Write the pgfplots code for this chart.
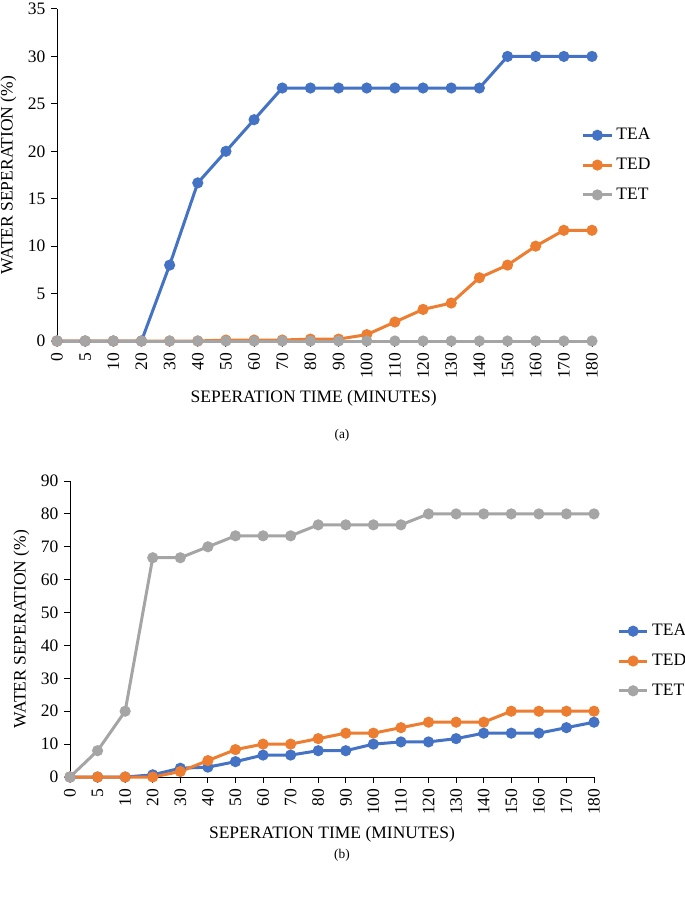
\documentclass[border=0pt]{standalone}
\usepackage{pgfplots}
\pgfplotsset{compat=1.18}
\usepackage{fontspec}
\setmainfont{Liberation Serif}

\definecolor{teablue}{HTML}{4472C4}
\definecolor{tedorange}{HTML}{ED7D31}
\definecolor{tetgray}{HTML}{A5A5A5}

\pgfplotsset{
  sepstyle/.style={
    scale only axis,
    axis lines=left,
    axis line style={-, black, line width=0.6pt},
    xmin=0, xmax=19, ymin=0,
    xtick={0,...,19},
    xticklabels={0,5,10,20,30,40,50,60,70,80,90,100,110,120,130,140,150,160,170,180},
    x tick label style={rotate=90, anchor=east},
    tick align=outside,
    major tick length=3.5pt,
    tick style={black, line width=0.6pt},
    clip=false,
    font=\fontsize{10.5}{12}\selectfont,
    /pgf/number format/assume math mode=true,
    ylabel={WATER SEPERATION (\%)},
    xlabel={SEPERATION TIME (MINUTES)},
    legend style={draw=none, fill=none, font=\fontsize{10.5}{12}\selectfont,
      row sep=5.5pt, inner sep=0pt},
    legend cell align=left,
    every axis plot/.append style={line width=1.8pt, mark=*, mark size=2.4pt},
  },
}

\begin{document}
\begin{tikzpicture}
\useasboundingbox (0,0) rectangle (411pt,-539.4pt);

% (a)
\begin{axis}[sepstyle,
    at={(34.2pt,-204.6pt)}, anchor=south west,
    width=321pt, height=199.2pt,
    ymax=35, ytick={0,5,...,35},
    xlabel style={xshift=-6.5pt},
    legend style={at={(rel axis cs:0.98,0.53)}, anchor=west},
]
\addplot[teablue] coordinates {
(0,0)(1,0)(2,0)(3,0)(4,8)(5,16.67)(6,20)(7,23.33)(8,26.67)(9,26.67)(10,26.67)(11,26.67)(12,26.67)(13,26.67)(14,26.67)(15,26.67)(16,30)(17,30)(18,30)(19,30)
};
\addlegendentry{TEA}
\addplot[tedorange] coordinates {
(0,0)(1,0)(2,0)(3,0)(4,0)(5,0)(6,0.1)(7,0.1)(8,0.1)(9,0.2)(10,0.2)(11,0.67)(12,2)(13,3.33)(14,4)(15,6.67)(16,8)(17,10)(18,11.67)(19,11.67)
};
\addlegendentry{TED}
\addplot[tetgray] coordinates {
(0,0)(1,0)(2,0)(3,0)(4,0)(5,0)(6,0)(7,0)(8,0)(9,0)(10,0)(11,0)(12,0)(13,0)(14,0)(15,0)(16,0)(17,0)(18,0)(19,0)
};
\addlegendentry{TET}
\end{axis}

% (b)
\begin{axis}[sepstyle,
    at={(42pt,-466.2pt)}, anchor=south west,
    width=314.4pt, height=177.6pt,
    ymax=90, ytick={0,10,...,90},
    legend style={at={(rel axis cs:1.044,0.392)}, anchor=west},
]
\addplot[teablue] coordinates {
(0,0)(1,0)(2,0)(3,0.67)(4,2.67)(5,3)(6,4.67)(7,6.67)(8,6.67)(9,8)(10,8)(11,10)(12,10.67)(13,10.67)(14,11.67)(15,13.33)(16,13.33)(17,13.33)(18,15)(19,16.67)
};
\addlegendentry{TEA}
\addplot[tedorange] coordinates {
(0,0)(1,0)(2,0)(3,0)(4,1.67)(5,5)(6,8.33)(7,10)(8,10)(9,11.67)(10,13.33)(11,13.33)(12,15)(13,16.67)(14,16.67)(15,16.67)(16,20)(17,20)(18,20)(19,20)
};
\addlegendentry{TED}
\addplot[tetgray] coordinates {
(0,0)(1,8)(2,20)(3,66.67)(4,66.67)(5,70)(6,73.33)(7,73.33)(8,73.33)(9,76.67)(10,76.67)(11,76.67)(12,76.67)(13,80)(14,80)(15,80)(16,80)(17,80)(18,80)(19,80)
};
\addlegendentry{TET}
\end{axis}

\node[font=\fontsize{8}{10}\selectfont] at (205.2pt,-261pt) {(a)};
\node[font=\fontsize{8}{10}\selectfont] at (205.2pt,-513pt) {(b)};
\end{tikzpicture}
\end{document}
